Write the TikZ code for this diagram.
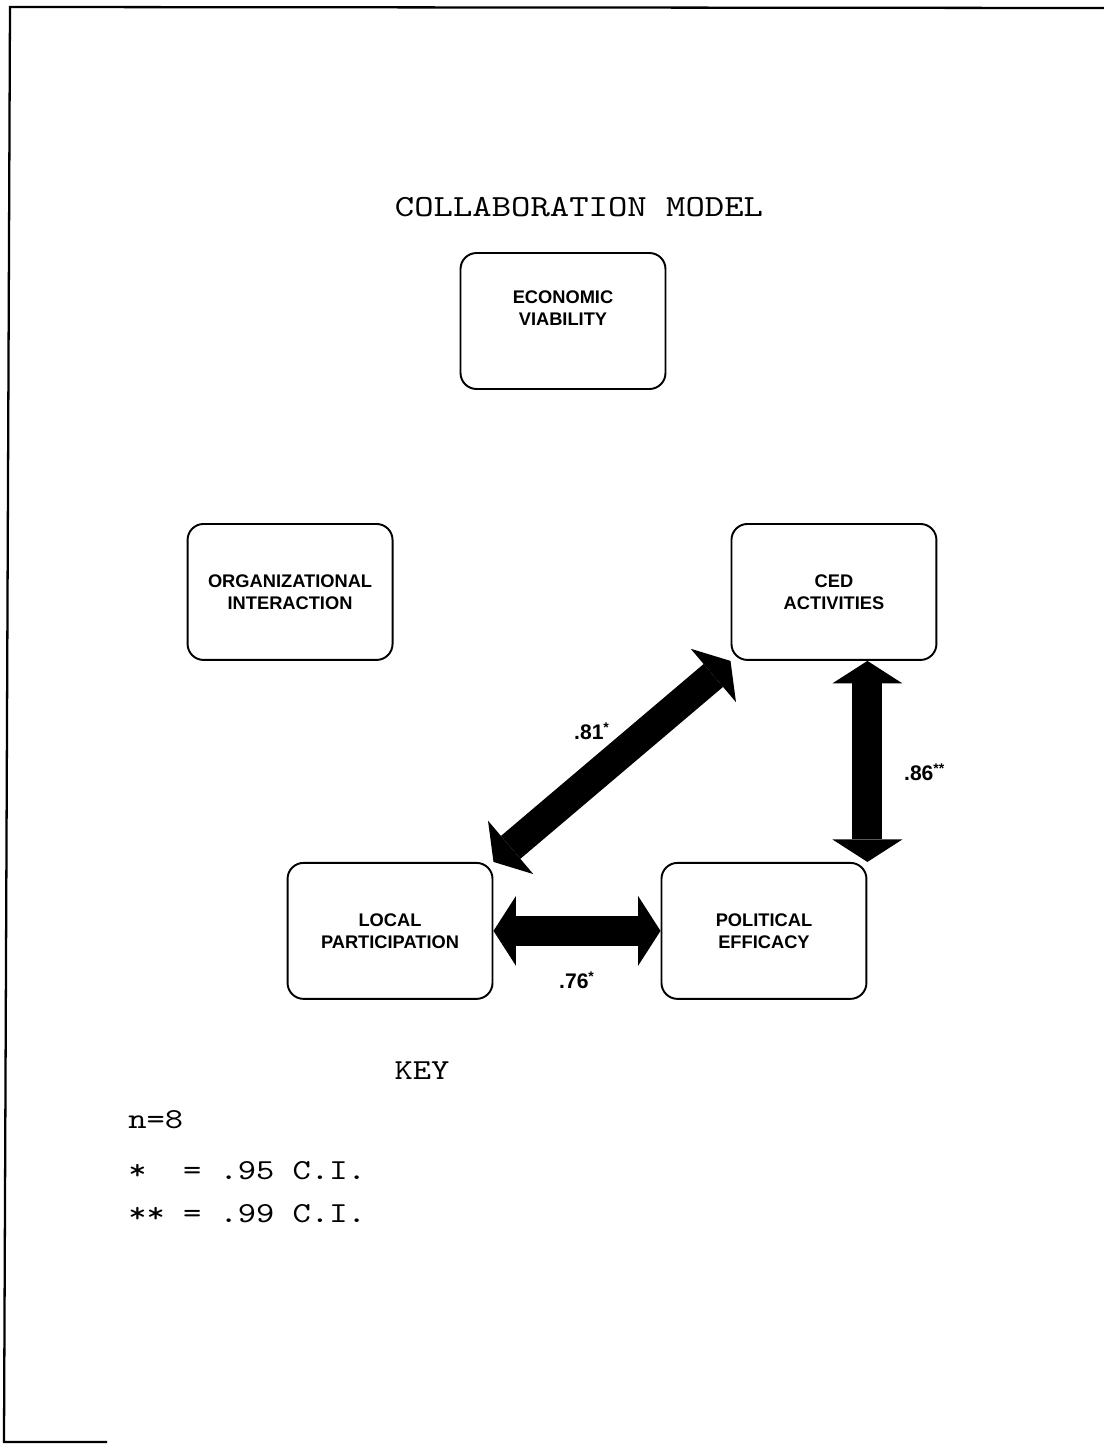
\documentclass[tikz,border=0pt]{standalone}
\usepackage{fontspec}
\newfontfamily\typewriter{lmmono10-regular.otf}[FakeStretch=1.2]
\newfontfamily\boxfont{Liberation Sans}
\usetikzlibrary{positioning,arrows.meta}

\tikzset{
  varbox/.style={draw, line width=1.1pt, rounded corners=0.32cm, on grid,
    minimum width=4.1cm, minimum height=2.72cm, align=center,
    font=\boxfont\bfseries\fontsize{10.4}{12.5}\selectfont},
  corr/.style={line width=0.6cm,
    {Triangle[length=0.45cm,width=1.4cm,line width=0pt]}-{Triangle[length=0.45cm,width=1.4cm,line width=0pt]}},
  rlabel/.style={font=\boxfont\bfseries\fontsize{12}{13}\selectfont, inner sep=1pt},
  typed/.style={font=\typewriter\fontsize{16.5}{20}\selectfont, inner sep=0pt, anchor=base west}
}

\begin{document}
\begin{tikzpicture}[x=0.02cm, y=-0.02cm]
\useasboundingbox (0,0) rectangle (1104,1444);
% page frame
\draw[line width=1.3pt] (107,1442) -- (4,1442) -- (10,7) -- (1104,8);

\node (title) at (579,207) [font=\typewriter\fontsize{17.5}{22}\selectfont] {COLLABORATION MODEL};

\node[varbox, text depth=0.5cm] (econ) at (563,321) {ECONOMIC\\VIABILITY};
\node[varbox] (org) [below left=5.42cm and 5.46cm of econ] {ORGANIZATIONAL\\INTERACTION};
\node[varbox] (ced) [below right=5.42cm and 5.42cm of econ] {CED\\ACTIVITIES};
\node[varbox] (local) [below right=6.78cm and 2.0cm of org] {LOCAL\\PARTICIPATION};
\node[varbox] (polit) [right=7.48cm of local] {POLITICAL\\EFFICACY};

\draw[corr] (local.north east) -- (ced.south west)
  node[rlabel, midway, shift={(-0.4cm,0.6cm)}] (r81) {.81\textsuperscript{*}};
\draw[corr] (ced.south -| polit.north east) -- (polit.north east)
  node[rlabel, midway, right=0.4cm, yshift=-0.22cm] (r86) {.86\textsuperscript{**}};
\draw[corr] (local) -- (polit)
  node[rlabel, midway, below=0.48cm] (r76) {.76\textsuperscript{*}};

% key
\node (key) at (422,1071) [font=\typewriter\fontsize{16.5}{20}\selectfont] {KEY};
\node[typed] (nsize) at (128,1128) {n=8};
\node[typed] (one) at (128,1179) {*\ \ = .95 C.I.};
\node[typed] (two) at (128,1222) {** = .99 C.I.};
\end{tikzpicture}
\end{document}
